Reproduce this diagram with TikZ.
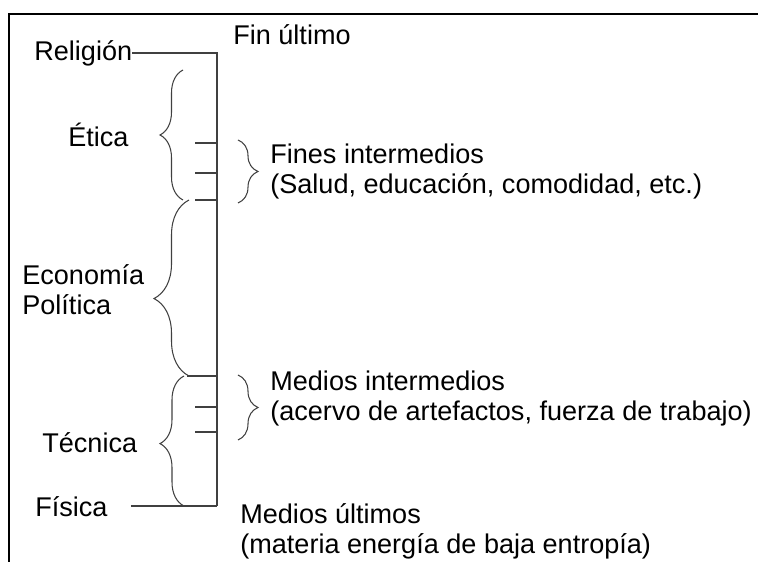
\documentclass[tikz,border=0pt]{standalone}
\usepackage{fontspec}
\setmainfont{Liberation Sans}
\usetikzlibrary{decorations.pathreplacing}

\begin{document}
\begin{tikzpicture}[
    linea/.style={draw=black!75,line width=0.6pt},
    llave/.style={draw=black!75,line width=0.6pt,decorate,decoration={brace,amplitude=#1}},
    texto/.style={anchor=base west,inner sep=0pt,align=left,font=\fontsize{15.4}{17.6}\selectfont}]
    \useasboundingbox (0,0) rectangle (15.16,11.24);
    \draw[line width=1.3pt] (0.18,0) -- (0.18,10.96) -- (15.16,10.96);

    \draw(0.68,10.02) node[texto] (religion) {Religión};
    \draw(4.66,10.34) node[texto] (finultimo) {Fin último};
    \draw(1.36,8.30) node[texto] (etica) {Ética};
    \draw(5.40,7.36) node[texto] (fines) {Fines intermedios\\(Salud, educación, comodidad, etc.)};
    \draw(0.44,4.94) node[texto] (economia) {Economía\\Política};
    \draw(0.84,2.18) node[texto] (tecnica) {Técnica};
    \draw(0.70,0.90) node[texto] (fisica) {Física};
    \draw(5.40,2.82) node[texto] (mediosint) {Medios intermedios\\(acervo de artefactos, fuerza de trabajo)};
    \draw(4.80,0.16) node[texto] (mediosult) {Medios últimos\\(materia energía de baja entropía)};

    \coordinate (arriba) at (4.34,10.18);
    \coordinate (abajo) at (4.34,1.12);
    \draw[linea] (religion.east |- arriba) -- (arriba) -- (abajo);
    \draw[linea] ([xshift=0.46cm]fisica.east |- abajo) -- (abajo);

    \draw[linea] (3.90,8.38) -- (4.34,8.38);
    \draw[linea] (3.90,7.78) -- (4.34,7.78);
    \draw[linea] (3.90,7.24) -- (4.34,7.24);
    \draw[linea] (3.74,3.72) -- (4.34,3.72);
    \draw[linea] (3.90,3.10) -- (4.34,3.10);
    \draw[linea] (3.90,2.60) -- (4.34,2.60);

    \draw[llave=0.46cm] (3.66,7.24) -- (3.66,9.84);
    \draw[llave=0.70cm,decoration={aspect=0.44}] (3.78,3.72) -- (3.78,7.24);
    \draw[llave=0.48cm,decoration={aspect=0.48}] (3.68,1.12) -- (3.68,3.72);
    \draw[llave=0.40cm] (4.76,8.44) -- (4.76,7.18);
    \draw[llave=0.40cm] (4.76,3.74) -- (4.76,2.44);
\end{tikzpicture}
\end{document}
